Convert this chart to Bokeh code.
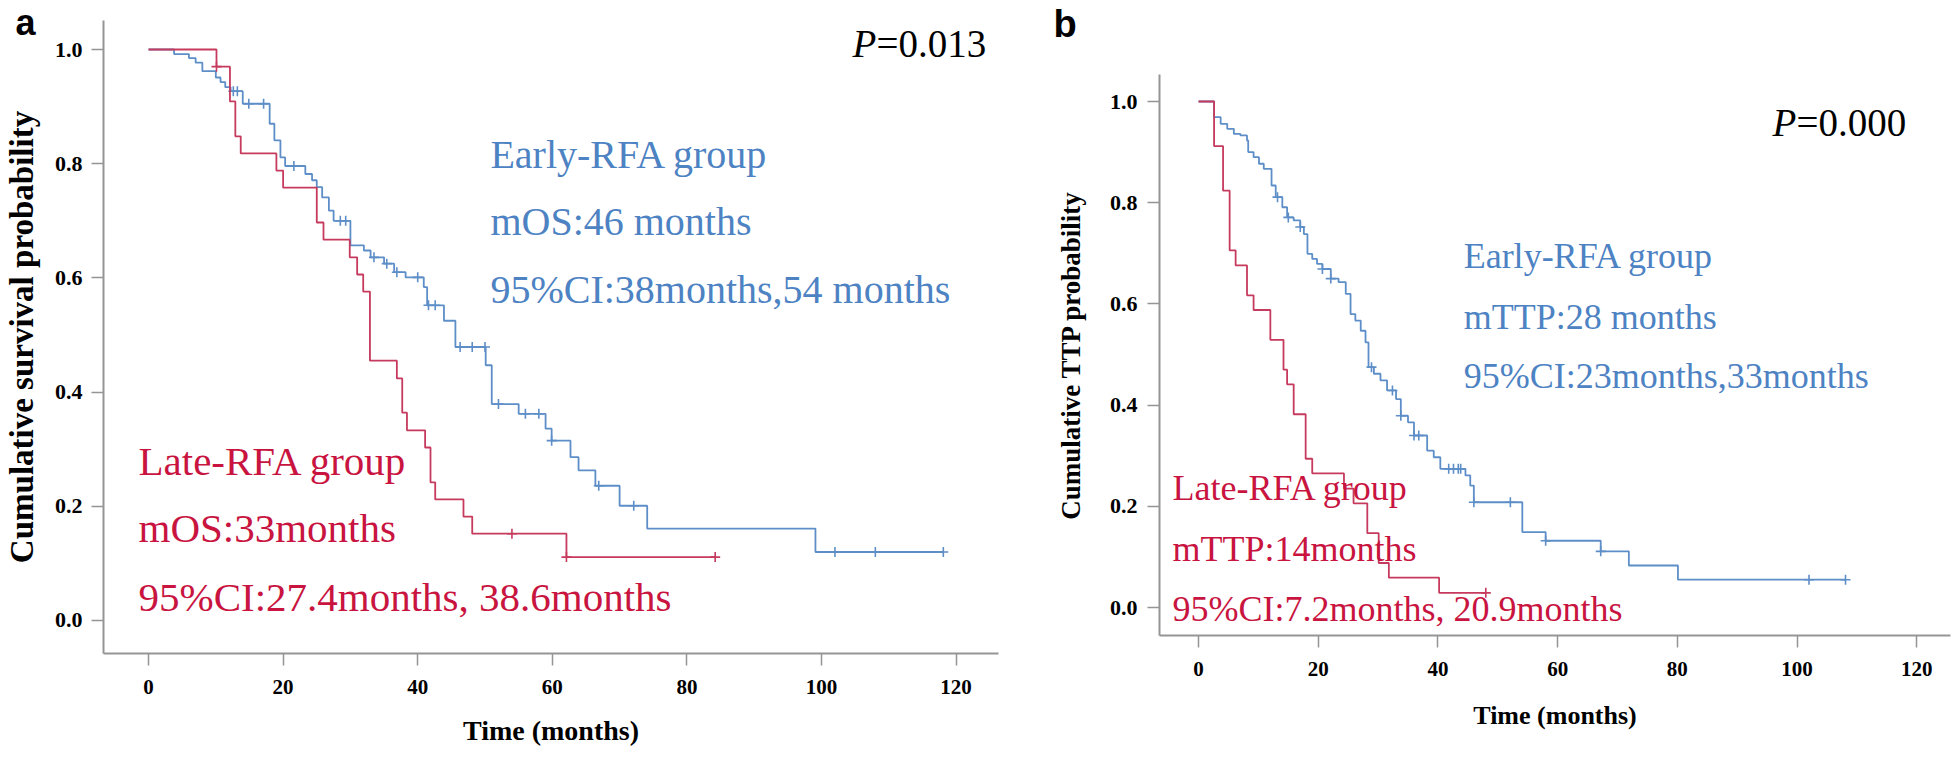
import numpy as np
from bokeh.plotting import figure
from bokeh.models import Label, Range1d, FixedTicker, PrintfTickFormatter, GridBox
from bokeh.embed import file_html
from bokeh.resources import INLINE

# ---------------- Panel a : overall survival ----------------
a_early_time = [0, 3.8, 6.0, 7.0, 8.0, 10.0, 10.7, 11.4, 12.2, 14.0, 18.0, 18.7, 19.6, 20.3,
                23.3, 24.3, 25.0, 25.8, 26.8, 27.5, 30.0, 32.0, 33.0, 35.0, 36.5, 38.2, 40.9,
                41.4, 43.9, 45.6, 50.1, 51.0, 55.0, 59.0, 59.9, 62.7, 63.9, 66.4, 70.0, 74.1, 99.1]
a_early_surv = [1.0, 0.992, 0.985, 0.977, 0.962, 0.951, 0.943, 0.934, 0.927, 0.905, 0.870, 0.841,
                0.811, 0.796, 0.782, 0.771, 0.759, 0.741, 0.718, 0.700, 0.657, 0.648, 0.636, 0.625,
                0.610, 0.601, 0.584, 0.552, 0.525, 0.479, 0.447, 0.379, 0.362, 0.336, 0.315, 0.286,
                0.263, 0.236, 0.201, 0.161, 0.120]
a_early_end = 118.1
a_early_cens = [12.6, 13.2, 14.9, 17.1, 21.6, 28.5, 29.3, 33.5, 35.4, 36.9, 40.0, 41.6, 42.6,
                46.3, 48.1, 50.0, 52.0, 56.0, 58.0, 59.9, 66.9, 72.1, 102.0, 108.0, 118.1]

a_late_time = [0, 10.1, 12.1, 12.9, 13.7, 19.0, 20.0, 25.0, 26.0, 29.9, 31.0, 31.9, 32.9, 36.9,
               37.7, 38.4, 41.1, 41.9, 42.6, 46.8, 48.1, 62.1]
a_late_surv = [1.0, 0.970, 0.909, 0.848, 0.818, 0.788, 0.758, 0.697, 0.667, 0.636, 0.606, 0.576,
               0.455, 0.424, 0.364, 0.333, 0.303, 0.242, 0.212, 0.182, 0.152, 0.111]
a_late_end = 84.2
a_late_cens = [10.1, 54.0, 62.1, 84.2]

# ---------------- Panel b : time to progression ----------------
b_early_time = [0, 2.6, 3.7, 4.8, 5.9, 7.0, 8.1, 8.3, 9.2, 10.1, 10.9, 12.2, 12.9, 14.0, 14.8,
                15.9, 17.0, 17.6, 18.2, 19.0, 19.8, 20.7, 22.1, 23.4, 24.6, 25.4, 26.2, 27.1,
                27.9, 28.4, 29.3, 30.4, 31.5, 33.0, 33.8, 35.0, 36.0, 38.2, 39.3, 40.4, 44.6,
                45.4, 46.0, 54.1, 58.0, 67.2, 71.9, 80.1]
b_early_surv = [1.0, 0.969, 0.956, 0.946, 0.936, 0.933, 0.923, 0.900, 0.890, 0.877, 0.867, 0.834,
                0.811, 0.791, 0.771, 0.765, 0.752, 0.738, 0.699, 0.689, 0.679, 0.669, 0.650,
                0.643, 0.620, 0.580, 0.567, 0.547, 0.524, 0.475, 0.462, 0.449, 0.429, 0.412,
                0.379, 0.366, 0.340, 0.310, 0.297, 0.274, 0.261, 0.241, 0.208, 0.149, 0.132,
                0.111, 0.083, 0.055]
b_early_end = 108.1
b_early_cens = [13.2, 15.0, 17.0, 20.7, 22.1, 28.9, 32.4, 33.8, 36.0, 36.8, 41.8, 42.6, 43.4,
                43.8, 46.0, 52.1, 58.0, 67.2, 102.0, 108.1]

b_late_time = [0, 2.6, 4.1, 5.2, 6.2, 8.1, 9.2, 12.0, 14.2, 14.8, 15.9, 17.9, 19.0, 24.3, 25.9,
               28.2, 30.1, 31.8, 40.2]
b_late_surv = [1.0, 0.912, 0.824, 0.706, 0.676, 0.617, 0.588, 0.529, 0.470, 0.441, 0.382, 0.294,
               0.265, 0.235, 0.206, 0.147, 0.088, 0.059, 0.029]
b_late_end = 48.0
b_late_cens = [48.0]

x_ticks = [0, 20, 40, 60, 80, 100, 120]
y_ticks = [0.0, 0.2, 0.4, 0.6, 0.8, 1.0]

BLUE_LINE = "#5d8ec8"
BLUE_TEXT = "#4d82c3"
RED_LINE = "#c63a5e"
RED_TEXT = "#c8143f"
AXIS = "#959595"
SERIF = "Liberation Serif"
SANS = "Liberation Sans"
H = 756


def step_at(times, surv, t):
    idx = np.searchsorted(np.asarray(times), t, side="right") - 1
    return [surv[i] for i in np.atleast_1d(idx)]


def km(p, times, surv, end, cens, color):
    xs = list(times) + [end]
    ys = list(surv) + [surv[-1]]
    p.step(xs, ys, mode="after", line_color=color, line_width=1.8)
    p.scatter(cens, step_at(times, surv, cens), marker="cross", size=10,
              line_color=color, line_width=1.6)


def make_fig(width, xr, yr, borders, ylab, xlab, tick_sizes, lab_sizes, standoffs):
    p = figure(width=width, height=H, x_range=Range1d(*xr), y_range=Range1d(*yr),
               output_backend="svg", toolbar_location=None, title_location=None,
               min_border_left=borders[0], min_border_right=borders[1],
               min_border_top=borders[2], min_border_bottom=borders[3],
               frame_align=False)
    p.outline_line_color = None
    p.xgrid.visible = False
    p.ygrid.visible = False
    p.background_fill_color = None
    p.border_fill_color = None
    for ax in (p.xaxis[0], p.yaxis[0]):
        ax.axis_line_color = AXIS
        ax.axis_line_width = 2
        ax.major_tick_line_color = AXIS
        ax.major_tick_line_width = 1.5
        ax.major_tick_out = 12
        ax.major_tick_in = 0
        ax.minor_tick_line_color = None
        ax.major_label_text_font = SERIF
        ax.major_label_text_font_style = "bold"
        ax.major_label_text_color = "black"
        ax.axis_label_text_font = SERIF
        ax.axis_label_text_font_style = "bold"
        ax.axis_label_text_color = "black"
    p.xaxis.ticker = FixedTicker(ticks=x_ticks)
    p.yaxis.ticker = FixedTicker(ticks=y_ticks)
    p.yaxis.formatter = PrintfTickFormatter(format="%.1f")
    p.xaxis.major_label_text_font_size = f"{tick_sizes[0]}px"
    p.yaxis.major_label_text_font_size = f"{tick_sizes[1]}px"
    p.xaxis.axis_label = xlab
    p.yaxis.axis_label = ylab
    p.xaxis.axis_label_text_font_size = f"{lab_sizes[0]}px"
    p.yaxis.axis_label_text_font_size = f"{lab_sizes[1]}px"
    p.xaxis.major_label_standoff = standoffs[0]
    p.xaxis.axis_label_standoff = standoffs[1]
    p.yaxis.major_label_standoff = standoffs[2]
    p.yaxis.axis_label_standoff = standoffs[3]
    return p


def add_text(p, x, y, text, color, size, font=SERIF, style="normal", x_offset=0):
    # the rendered baseline sits about half of (ascent - descent) lower than asked,
    # so lift each label by that amount to put its baseline where it was read.
    k = 0.347 if font == SANS else 0.3375
    p.add_layout(Label(x=x, y=y, text=text, text_color=color, text_font=font,
                       text_font_size=f"{size}px", text_font_style=style,
                       text_align="left", text_baseline="alphabetic",
                       x_offset=x_offset, y_offset=round(k * size)))


def tag_fig(width, x, baseline, letter, size):
    h = 60
    t = figure(width=width, height=h, x_range=Range1d(0, width), y_range=Range1d(0, h),
               output_backend="svg", toolbar_location=None, title_location=None,
               x_axis_location=None, y_axis_location=None, min_border=0, align="start",
               frame_align=False)
    t.outline_line_color = None
    t.xgrid.visible = False
    t.ygrid.visible = False
    t.background_fill_color = None
    t.border_fill_color = None
    add_text(t, x, h - baseline, letter, "black", size, font=SANS, style="bold")
    return t


# ---------- figure a ----------
pa = make_fig(1000, (-6.69, 126.3), (-0.0578, 1.0508), (103, 2, 20, H - 653),
              "Cumulative survival probability", "Time (months)",
              (21, 22), (28, 33), (14, 18, 9, 12))
km(pa, a_early_time, a_early_surv, a_early_end, a_early_cens, BLUE_LINE)
km(pa, a_late_time, a_late_surv, a_late_end, a_late_cens, RED_LINE)
add_text(pa, 104.6, 0.9878, "P", "black", 39, style="italic")
add_text(pa, 104.6, 0.9878, "=0.013", "black", 39, x_offset=24)
for yy, t in zip([0.7916, 0.6743, 0.5552],
                 ["Early-RFA group", "mOS:46 months", "95%CI:38months,54 months"]):
    add_text(pa, 50.8, yy, t, BLUE_TEXT, 40)
for yy, t in zip([0.254, 0.1366, 0.0175],
                 ["Late-RFA group", "mOS:33months", "95%CI:27.4months, 38.6months"]):
    add_text(pa, -1.49, yy, t, RED_TEXT, 41)

# ---------- figure b ----------
pb = make_fig(958, (-6.52, 125.64), (-0.0553, 1.0534), (159, 8, 74, H - 635),
              "Cumulative TTP probability", "Time (months)",
              (21, 22), (26, 27), (14, 22, 10, 21))
km(pb, b_early_time, b_early_surv, b_early_end, b_early_cens, BLUE_LINE)
km(pb, b_late_time, b_late_surv, b_late_end, b_late_cens, RED_LINE)
add_text(pb, 95.9, 0.933, "P", "black", 39, style="italic")
add_text(pb, 95.9, 0.933, "=0.000", "black", 39, x_offset=24)
for yy, t in zip([0.670, 0.551, 0.433],
                 ["Early-RFA group", "mTTP:28 months", "95%CI:23months,33months"]):
    add_text(pb, 44.3, yy, t, BLUE_TEXT, 36)
for yy, t in zip([0.2115, 0.0929, -0.0257],
                 ["Late-RFA group", "mTTP:14months", "95%CI:7.2months, 20.9months"]):
    add_text(pb, -4.34, yy, t, RED_TEXT, 36)

tag_a = tag_fig(60, 15, 34, "a", 36)
tag_b = tag_fig(100, 53, 36, "b", 38)

layout = GridBox(children=[(tag_a, 0, 0), (pa, 0, 0), (tag_b, 0, 1), (pb, 0, 1)], spacing=0)
open("out.html", "w").write(file_html(layout, INLINE))
